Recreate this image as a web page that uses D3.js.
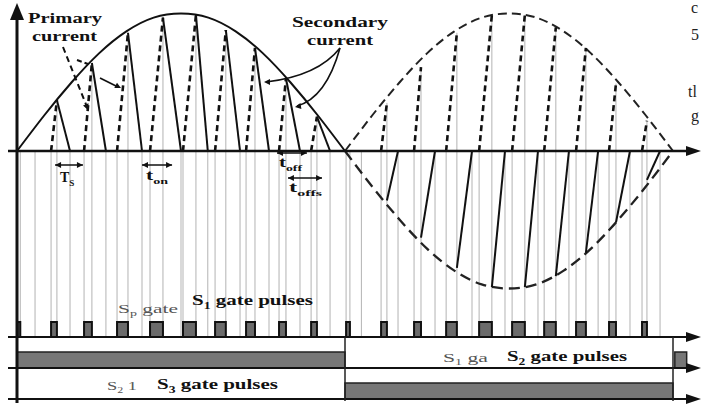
<!DOCTYPE html>
<html lang="en">
  <head>
    <meta charset="UTF-8" />
    <title>Gate pulses</title>
    <script src="https://d3js.org/d3.v7.min.js"></script>
    <style>
      body { margin: 0; background: #fff; }
      text { font-family: "Liberation Serif", "Times New Roman", "DejaVu Serif", serif; }
    </style>
  </head>
  <body>
    <script>
      // switching periods, angles in degrees of one line cycle
      var periodIndex = [0, 1, 2, 3, 4, 5, 6, 7, 8, 9, 10, 11, 12, 13, 14, 15, 16, 17, 18, 19];
      var onStart = [0.3, 18.7, 36.8, 54.9, 73, 91.1, 108.7, 125.7, 143.8, 161.4, 180.6, 199.8, 217.9, 235.5, 253.6, 271.7, 289.3, 306.8, 324.9, 343];
      var onEnd = [1.8, 21.9, 41.1, 60.9, 80.1, 98.2, 114.6, 130.6, 147.6, 164.6, 182.7, 203, 221.7, 241.4, 260.6, 278.7, 295.7, 312.2, 328.7, 345.7];
      var offEnd = [9.9, 29.1, 48.8, 68.6, 90, 104.7, 122.4, 138.3, 155.3, 171.8, 189, 209.1, 229.4, 249.7, 267.8, 285.9, 302.9, 318.9, 336.4, 352.9];
      var primaryPeak = [0, 0.37, 0.64, 0.86, 0.97, 0.99, 0.88, 0.75, 0.53, 0.25, 0, 0.35, 0.61, 0.86, 0.99, 0.99, 0.9, 0.75, 0.49, 0.22];
      var secondaryPeak = [0, 0.37, 0.64, 0.86, 0.97, 0.99, 0.88, 0.75, 0.53, 0.25, 0, -0.36, -0.63, -0.85, -0.99, -0.99, -0.91, -0.74, -0.52, -0.21];

      // envelope read every 15 degrees
      var envAngle = [0, 15, 30, 45, 60, 75, 90, 105, 120, 135, 150, 165, 180, 195, 210, 225, 240, 255, 270, 285, 300, 315, 330, 345, 360];
      var envValue = [0, 0.26, 0.5, 0.71, 0.87, 0.97, 1, 0.97, 0.87, 0.71, 0.5, 0.26, 0, -0.26, -0.5, -0.71, -0.87, -0.97, -1, -0.97, -0.87, -0.71, -0.5, -0.26, 0];

      // S2 / S3 conduction intervals (degrees)
      var s2On = [[0, 180], [361, 367.5]];
      var s3On = [[180, 360]];

      var x = d3.scaleLinear().domain([0, 360]).range([17, 673]);
      var y = d3.scaleLinear().domain([-1, 1]).range([288.5, 13.5]);

      var row1Base = 337, row2Base = 368, row3Base = 399;

      var svg = d3
        .select("body")
        .append("svg")
        .attr("width", 701)
        .attr("height", 405);

      // thin guide lines at switching instants
      var guides = [];
      periodIndex.forEach(function (k) {
        guides.push({ a: onStart[k], top: 0 });
        guides.push({ a: onEnd[k], top: primaryPeak[k] });
        guides.push({ a: offEnd[k], top: 0 });
      });
      svg
        .selectAll(".guide")
        .data(guides)
        .enter()
        .append("line")
        .attr("class", "guide")
        .attr("x1", function (d) { return x(d.a); })
        .attr("x2", function (d) { return x(d.a); })
        .attr("y1", function (d) { return y(d.top); })
        .attr("y2", row1Base)
        .attr("stroke", "#b3b3b3")
        .attr("stroke-width", 1);

      // envelopes
      var env = envAngle.map(function (a, i) { return [a, envValue[i]]; });
      var line = d3
        .line()
        .x(function (d) { return x(d[0]); })
        .y(function (d) { return y(d[1]); })
        .curve(d3.curveNatural);

      svg
        .append("path")
        .attr("d", line(env.filter(function (d) { return d[0] <= 180; })))
        .attr("fill", "none")
        .attr("stroke", "#111")
        .attr("stroke-width", 2);

      svg
        .append("path")
        .attr("d", line(env.filter(function (d) { return d[0] >= 180; }).map(function (d) { return [d[0], Math.abs(d[1])]; })))
        .attr("fill", "none")
        .attr("stroke", "#222")
        .attr("stroke-width", 2)
        .attr("stroke-dasharray", "9,5");

      svg
        .append("path")
        .attr("d", line(env.filter(function (d) { return d[0] >= 180; })))
        .attr("fill", "none")
        .attr("stroke", "#222")
        .attr("stroke-width", 2.3)
        .attr("stroke-dasharray", "11,6");

      // primary current (dashed rises)
      var active = periodIndex.filter(function (k) { return primaryPeak[k] > 0; });
      svg
        .selectAll(".primary")
        .data(active)
        .enter()
        .append("line")
        .attr("class", "primary")
        .attr("x1", function (k) { return x(onStart[k]); })
        .attr("y1", y(0))
        .attr("x2", function (k) { return x(onEnd[k]); })
        .attr("y2", function (k) { return y(primaryPeak[k]); })
        .attr("stroke", "#111")
        .attr("stroke-width", 2.6)
        .attr("stroke-dasharray", "6,4");

      // secondary current (solid decays)
      svg
        .selectAll(".secondary")
        .data(active)
        .enter()
        .append("line")
        .attr("class", "secondary")
        .attr("x1", function (k) { return x(onEnd[k]); })
        .attr("y1", function (k) { return y(secondaryPeak[k]); })
        .attr("x2", function (k) { return x(offEnd[k]); })
        .attr("y2", y(0))
        .attr("stroke", "#111")
        .attr("stroke-width", 2);

      // S1 gate pulses
      svg
        .selectAll(".pulse")
        .data(periodIndex)
        .enter()
        .append("rect")
        .attr("class", "pulse")
        .attr("x", function (k) { return x(onStart[k]); })
        .attr("width", function (k) { return x(onEnd[k]) - x(onStart[k]); })
        .attr("y", row1Base - 15)
        .attr("height", 15)
        .attr("fill", "#6b6b6b")
        .attr("stroke", "#111")
        .attr("stroke-width", 2);

      // S2 and S3 bars
      function bars(data, base, cls) {
        svg
          .selectAll("." + cls)
          .data(data)
          .enter()
          .append("rect")
          .attr("class", cls)
          .attr("x", function (d) { return x(d[0]); })
          .attr("width", function (d) { return x(d[1]) - x(d[0]); })
          .attr("y", base - 16)
          .attr("height", 16)
          .attr("fill", "#777")
          .attr("stroke", "#222")
          .attr("stroke-width", 1.5);
      }
      bars(s2On, row2Base, "s2");
      bars(s3On, row3Base, "s3");

      // axes
      var axisColor = "#111";
      svg.append("line").attr("x1", 17).attr("x2", 17).attr("y1", 16).attr("y2", 403)
        .attr("stroke", axisColor).attr("stroke-width", 3);
      svg.append("polygon").attr("points", "10,20 24,20 17,3").attr("fill", axisColor);

      [y(0), row1Base, row2Base, row3Base].forEach(function (yy, i) {
        svg.append("line").attr("x1", 8).attr("x2", 688).attr("y1", yy).attr("y2", yy)
          .attr("stroke", axisColor).attr("stroke-width", i === 0 ? 2.6 : 2);
        svg.append("polygon")
          .attr("points", "686," + (yy - 5) + " 701," + yy + " 686," + (yy + 5))
          .attr("fill", axisColor);
      });
      // transitions of S2/S3
      [180, 360].forEach(function (a) {
        svg.append("line").attr("x1", x(a)).attr("x2", x(a)).attr("y1", row1Base).attr("y2", row3Base + 2)
          .attr("stroke", "#222").attr("stroke-width", 1.5);
      });

      // text helpers
      function label(txt, tx, ty, size, len, color, weight) {
        var t = svg.append("text")
          .attr("x", tx).attr("y", ty)
          .style("font-size", size + "px")
          .style("font-weight", weight || "bold")
          .attr("fill", color || "#111")
          .text(txt);
        if (len) t.attr("textLength", len).attr("lengthAdjust", "spacingAndGlyphs");
        return t;
      }
      function subLabel(main, sub, rest, tx, ty, size, len, color, weight) {
        var t = svg.append("text")
          .attr("x", tx).attr("y", ty)
          .style("font-size", size + "px")
          .style("font-weight", weight || "bold")
          .attr("fill", color || "#111");
        t.append("tspan").text(main);
        t.append("tspan").attr("dy", size * 0.25).style("font-size", size * 0.65 + "px").text(sub);
        if (rest) t.append("tspan").attr("dy", -size * 0.25).text(rest);
        if (len) t.attr("textLength", len).attr("lengthAdjust", "spacingAndGlyphs");
        return t;
      }

      label("Primary", 28, 23, 15, 74);
      label("current", 32, 41, 15, 65);
      label("Secondary", 292, 27, 15, 96);
      label("current", 307, 45, 15, 66);

      // pointers
      function arrowHead(px, py, ang) {
        var s = 6, w = 3;
        var bx = px - s * Math.cos(ang), by = py - s * Math.sin(ang);
        svg.append("polygon")
          .attr("points", px + "," + py + " " + (bx - w * Math.sin(ang)) + "," + (by + w * Math.cos(ang)) + " " + (bx + w * Math.sin(ang)) + "," + (by - w * Math.cos(ang)))
          .attr("fill", "#111");
      }
      svg.append("line").attr("x1", 63).attr("y1", 47).attr("x2", 87).attr("y2", 107)
        .attr("stroke", "#111").attr("stroke-width", 2).attr("stroke-dasharray", "6,4");
      arrowHead(88, 110, Math.atan2(63, 25));
      svg.append("line").attr("x1", 77).attr("y1", 60).attr("x2", 88).attr("y2", 64)
        .attr("stroke", "#111").attr("stroke-width", 2).attr("stroke-dasharray", "5,3");
      svg.append("line").attr("x1", 100).attr("y1", 78).attr("x2", 118).attr("y2", 87)
        .attr("stroke", "#111").attr("stroke-width", 1.6);
      arrowHead(121, 88, Math.atan2(10, 20));

      svg.append("path").attr("d", "M340,48 Q318,76 266,82")
        .attr("fill", "none").attr("stroke", "#111").attr("stroke-width", 1.6);
      arrowHead(264, 82, Math.PI);
      svg.append("path").attr("d", "M340,48 Q326,98 297,106")
        .attr("fill", "none").attr("stroke", "#111").attr("stroke-width", 1.6);
      arrowHead(295, 107, Math.PI * 0.95);

      // interval markers
      var spans = [
        { a: 20.9, b: 36.2, yy: 165 },
        { a: 68.6, b: 85.1, yy: 165 },
        { a: 142.7, b: 159.1, yy: 153 },
        { a: 148.7, b: 167.4, yy: 178 }
      ];
      spans.forEach(function (s) {
        svg.append("line").attr("x1", x(s.a)).attr("x2", x(s.b)).attr("y1", s.yy).attr("y2", s.yy)
          .attr("stroke", "#111").attr("stroke-width", 1.5);
        arrowHead(x(s.a), s.yy, Math.PI);
        arrowHead(x(s.b), s.yy, 0);
      });
      subLabel("T", "S", null, 60, 182, 14);
      subLabel("t", "on", null, 146, 180, 14, 22);
      subLabel("t", "off", null, 279, 167, 14, 23);
      subLabel("t", "offs", null, 289, 192, 14, 33);

      // gate pulse labels
      subLabel("S", "p", " gate", 118, 313, 12, 60, "#555", "normal");
      subLabel("S", "1", " gate pulses", 192, 305, 15, 121);
      subLabel("S", "1", " ga", 443, 362, 12, 45, "#555", "normal");
      subLabel("S", "2", " gate pulses", 507, 361, 15, 120);
      subLabel("S", "2", " 1", 107, 390, 12, 30, "#555", "normal");
      subLabel("S", "3", " gate pulses", 157, 389, 15, 121);

      // cut-off page text at the right edge
      label("c", 691, 13, 16, null, "#222", "normal");
      label("5", 691, 40, 16, null, "#222", "normal");
      label("tl", 688, 97, 16, null, "#222", "normal");
      label("g", 691, 121, 16, null, "#222", "normal");
    </script>
  </body>
</html>
